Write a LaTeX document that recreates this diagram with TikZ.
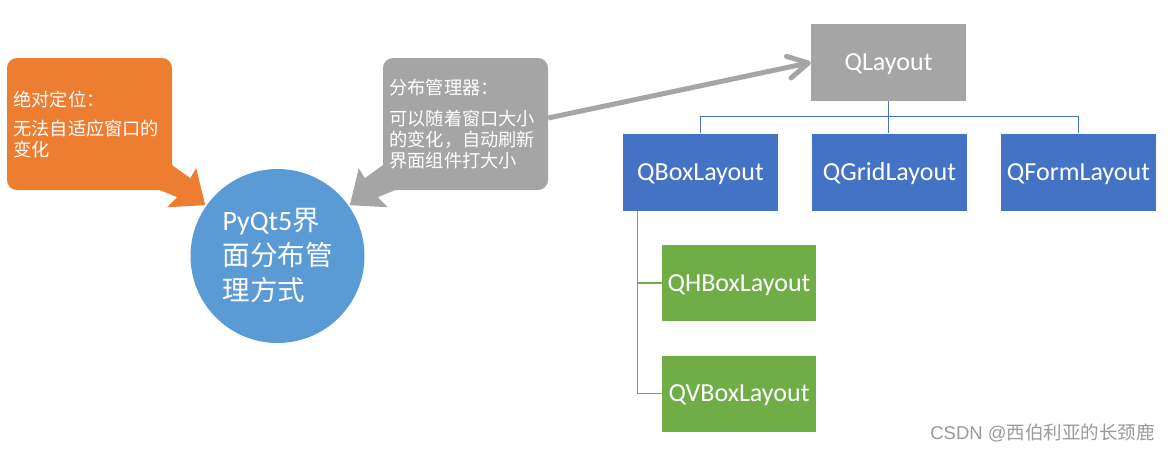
\documentclass[tikz,border=0pt]{standalone}
\usepackage{fontspec}
\setmainfont{Carlito}
\newfontfamily\cjk{Noto Sans CJK SC}
\newfontfamily\arialish{Liberation Sans}
\usetikzlibrary{arrows.meta}
\definecolor{cOrange}{HTML}{ED7D31}
\definecolor{cGray}{HTML}{A5A5A5}
\definecolor{cBlue}{HTML}{4472C4}
\definecolor{cGreen}{HTML}{70AD47}
\definecolor{cCircle}{HTML}{5B9BD5}
\definecolor{cMark}{HTML}{9A9A9A}
\begin{document}
\begin{tikzpicture}[x=1pt,y=-1pt,
  layoutbox/.style={rectangle, minimum width=155pt, minimum height=77pt, inner sep=0pt, text=white, text height=16.7pt, text depth=0pt, font=\fontsize{26}{31}\selectfont},
  callout/.style={rectangle, rounded corners=10pt, minimum width=165pt, minimum height=132pt, text width=152pt, align=left, text=white, inner sep=0pt, font=\cjk\fontsize{18.2}{21}\selectfont},
  treeline/.style={line width=1.2pt, draw=cBlue},
  greenline/.style={line width=1.2pt, draw=cGreen},
  bigarrow/.style={line width=5pt, draw=cGray, -{Straight Barb[length=20pt,width=22pt,round]}}
]
\useasboundingbox (0,0) rectangle (1173,451);

% callouts
\node[callout, fill=cOrange] (abs) at (89.5,124) {绝对定位：\\[8pt]无法自适应窗口的\\变化};
\fill[cOrange] ([shift={(0,-25)}]abs.south east) -- ([shift={(18,-12)}]abs.south east)
  -- ([shift={(24,-22)}]abs.south east) -- ([shift={(33,15)}]abs.south east)
  -- ([shift={(-5,17)}]abs.south east) -- ([shift={(5,7)}]abs.south east)
  -- ([shift={(-12,0)}]abs.south east) -- cycle;

\node[callout, fill=cGray] (mgr) at (465.5,124) {分布管理器：\\[10pt]可以随着窗口大小\\的变化，自动刷新\\界面组件打大小};
\fill[cGray] ([shift={(0,-25)}]mgr.south west) -- ([shift={(-18,-12)}]mgr.south west)
  -- ([shift={(-24,-22)}]mgr.south west) -- ([shift={(-33,15)}]mgr.south west)
  -- ([shift={(5,17)}]mgr.south west) -- ([shift={(-5,7)}]mgr.south west)
  -- ([shift={(12,0)}]mgr.south west) -- cycle;

% circle
\node[circle, fill=cCircle, minimum size=174pt, inner sep=0pt, text=white, align=left,
  font=\cjk\fontsize{27.5}{35}\selectfont] (main) at (277.5,256)
  {{\rmfamily\fontsize{28}{35}\selectfont PyQt5}界\\面分布管\\理方式};

% layout tree
\node[layoutbox, fill=cGray] (ql) at (888.5,62.5) {QLayout};
\node[layoutbox, fill=cBlue] (qbox) at (700.5,172) {QBoxLayout};
\node[layoutbox, fill=cBlue] (qgrid) at (889.5,172) {QGridLayout};
\node[layoutbox, fill=cBlue] (qform) at (1078.5,172) {QFormLayout};
\node[layoutbox, fill=cGreen, minimum width=154pt, minimum height=76pt] (qh) at (739,283) {QHBoxLayout};
\node[layoutbox, fill=cGreen, minimum width=154pt, minimum height=76pt] (qv) at (739,393.5) {QVBoxLayout};

\draw[treeline] (ql.south) -- (ql.south |- qgrid.north);
\draw[treeline] (qbox.north) -- ++(0,-17) -| (qform.north);
\draw[greenline] ([xshift=15pt]qbox.south west) |- (qh.west);
\draw[greenline] ([xshift=15pt]qbox.south west) |- (qv.west);

% big arrow
\draw[bigarrow] ([yshift=6pt]mgr.east) -- (ql.west);

% watermark
\node[text=cMark, font=\cjk\fontsize{18.5}{20}\selectfont, inner sep=0pt] (wm) at (1042.5,433) {{\arialish CSDN @}西伯利亚的长颈鹿};
\end{tikzpicture}
\end{document}
